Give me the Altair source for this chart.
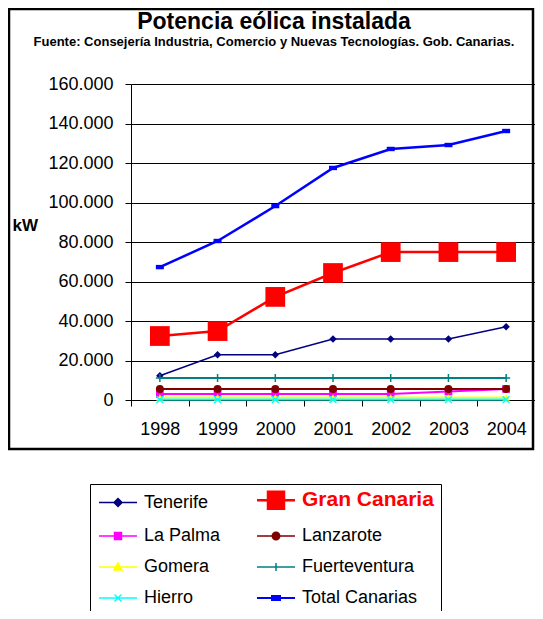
import json
import altair as alt
import pandas as pd

# ---------------- data ----------------
years = ["1998", "1999", "2000", "2001", "2002", "2003", "2004"]
tenerife = [12300, 22900, 22900, 30900, 30900, 30900, 37100]
gran_canaria = [32400, 34900, 52200, 64300, 74900, 74900, 74900]
la_palma = [3000, 3000, 3000, 3000, 3000, 4300, 5600]
lanzarote = [5600, 5600, 5600, 5600, 5600, 5600, 5600]
gomera = [1300, 1300, 1300, 1300, 1300, 1300, 1300]
fuerteventura = [11100, 11100, 11100, 11100, 11100, 11100, 11100]
hierro = [200, 200, 200, 200, 200, 200, 200]
total_canarias = [67300, 80500, 98200, 117500, 127100, 129100, 136200]

# drawing order (later on top)
series_names = ["Tenerife", "Gran Canaria", "La Palma", "Lanzarote",
                "Gomera", "Fuerteventura", "Hierro", "Total Canarias"]
series_values = [tenerife, gran_canaria, la_palma, lanzarote,
                 gomera, fuerteventura, hierro, total_canarias]
series_colors = ["#000080", "#FF0000", "#FF00FF", "#800000",
                 "#FFFF00", "#008080", "#00FFFF", "#0000FF"]
# legend order (column by column)
legend_order = ["Tenerife", "La Palma", "Gomera", "Hierro",
                "Gran Canaria", "Lanzarote", "Fuerteventura", "Total Canarias"]

rows = []
for name, vals in zip(series_names, series_values):
    for y, v in zip(years, vals):
        rows.append({"anio": y, "serie": name, "kw": v})
df = pd.DataFrame(rows)

FONT = "Liberation Sans"
color_of = dict(zip(series_names, series_colors))

# ---------------- styles ----------------
line_w = {"Tenerife": 1.5, "Gran Canaria": 2.5, "La Palma": 2, "Lanzarote": 2,
          "Gomera": 2, "Fuerteventura": 2, "Hierro": 2, "Total Canarias": 2.5}
marker_shape = {"Tenerife": "diamond", "Gran Canaria": "square", "La Palma": "square",
                "Lanzarote": "circle", "Gomera": "triangle-up",
                "Fuerteventura": "M-1,0H1M0,-1V1",
                "Hierro": "M-1,-1L1,1M-1,1L1,-1",
                "Total Canarias": "M-1,-0.55H1V0.55H-1Z"}
marker_size = {"Tenerife": 56, "Gran Canaria": 390, "La Palma": 60, "Lanzarote": 64,
               "Gomera": 55, "Fuerteventura": 64, "Hierro": 45, "Total Canarias": 64}
stroked_only = {"Fuerteventura", "Hierro"}

# legend symbol paths (unit = 5px since symbolSize=100), shifted right by S
S = 2.4
LINE = f"M{-3.8 + S},0H{3.8 + S}"


def sq(hw, hh):
    return f"M{S - hw},{-hh}H{S + hw}V{hh}H{S - hw}Z"


legend_paths = {
    "Tenerife": LINE + f"M{S},-0.8L{S + 0.8},0L{S},0.8L{S - 0.8},0Z",
    "Gran Canaria": LINE + sq(1.6, 1.7),
    "La Palma": LINE + sq(0.7, 0.7),
    "Lanzarote": LINE + f"M{S + 0.75},0A0.75,0.75 0 1,1 {S - 0.75},0A0.75,0.75 0 1,1 {S + 0.75},0Z",
    "Gomera": LINE + f"M{S},-0.8L{S + 0.8},0.6H{S - 0.8}Z",
    "Fuerteventura": LINE + f"M{S},-0.8V0.8",
    "Hierro": LINE + f"M{S - 0.7},-0.7L{S + 0.7},0.7M{S - 0.7},0.7L{S + 0.7},-0.7",
    "Total Canarias": LINE + sq(0.8, 0.4),
}


def case_expr(mapping, default):
    def lit(v):
        return str(v) if isinstance(v, (int, float)) else json.dumps(v)
    expr = lit(default)
    for k, v in reversed(list(mapping.items())):
        expr = f"datum.value === {json.dumps(k)} ? {lit(v)} : ({expr})"
    return expr


legend = alt.Legend(
    title=None,
    orient="none",
    legendX=-41,
    legendY=400,
    direction="vertical",
    columns=2,
    strokeColor="black",
    fillColor="white",
    padding=7,
    symbolSize=100,
    symbolType=alt.ExprRef(expr=case_expr(legend_paths, LINE)),
    symbolStrokeColor=alt.ExprRef(expr=case_expr(color_of, "black")),
    symbolFillColor=alt.ExprRef(expr=case_expr(color_of, "black")),
    symbolStrokeWidth=alt.ExprRef(expr=case_expr({"Gran Canaria": 2.5, "Total Canarias": 2}, 1.5)),
    symbolOpacity=1,
    labelFont=FONT,
    labelFontSize=alt.ExprRef(expr="datum.value === 'Gran Canaria' ? 21 : 18"),
    labelFontWeight=alt.ExprRef(expr="datum.value === 'Gran Canaria' ? 'bold' : 'normal'"),
    labelColor=alt.ExprRef(expr="datum.value === 'Gran Canaria' ? '#FF0000' : '#000000'"),
    labelOffset=29,
    labelLimit=300,
    rowPadding=13,
    columnPadding=31,
)

color_scale = alt.Scale(domain=legend_order, range=[color_of[n] for n in legend_order])

x_enc = alt.X("anio:O", scale=alt.Scale(type="band", paddingInner=0, paddingOuter=0),
              axis=alt.Axis(title=None, labelAngle=0, tickBand="extent", grid=False,
                            labelFont=FONT, labelFontSize=18, labelColor="black",
                            tickSize=6, labelPadding=14, domainColor="black",
                            tickColor="black"))
y_enc = alt.Y("kw:Q", scale=alt.Scale(domain=[0, 160000], nice=False),
              axis=alt.Axis(title="kW", titleAngle=0, titleAlign="left",
                            titleBaseline="middle", titleX=-119, titleY=141,
                            titleFont=FONT, titleFontSize=17, titleFontWeight="bold",
                            titleColor="black",
                            values=[0, 20000, 40000, 60000, 80000, 100000, 120000, 140000, 160000],
                            labelExpr="replace(format(datum.value, ','), ',', '.')",
                            labelFont=FONT, labelFontSize=18, labelColor="black",
                            tickSize=6, labelPadding=12, domainColor="black",
                            tickColor="black", gridColor="black", gridWidth=1,
                            gridOpacity=1))

base = alt.Chart(df)

layers = []
# outer frame (decoration)
frame = alt.Chart(pd.DataFrame({"f": [0]})).mark_rect(
    fillOpacity=0, stroke="black", strokeWidth=2.5
).encode(x=alt.value(-122), x2=alt.value(402), y=alt.value(-75), y2=alt.value(365))
layers.append(frame)

for name in series_names:
    sub = base.transform_filter(alt.datum.serie == name)
    col = alt.Color("serie:N", scale=color_scale, legend=legend)
    ln = sub.mark_line(strokeWidth=line_w[name]).encode(x=x_enc, y=y_enc, color=col)
    if name in stroked_only:
        pt = sub.mark_point(filled=False, strokeWidth=1.5, opacity=1,
                            shape=marker_shape[name], size=marker_size[name])
    else:
        pt = sub.mark_point(filled=True, opacity=1, strokeWidth=0,
                            shape=marker_shape[name], size=marker_size[name])
    pt = pt.encode(x=x_enc, y=y_enc, color=col)
    layers.append(ln)
    layers.append(pt)

chart = alt.layer(*layers).properties(
    width=404,
    height=316,
    autosize=alt.AutoSizeParams(type="none"),
    padding={"left": 123, "top": 76, "right": 0, "bottom": 211},
    title=alt.Title(
        "Potencia eólica instalada",
        subtitle="Fuente: Consejería Industria, Comercio y Nuevas Tecnologías. Gob. Canarias.",
        font=FONT, fontSize=23, fontWeight="bold", color="black",
        subtitleFont=FONT, subtitleFontSize=13, subtitleFontWeight="bold",
        subtitleColor="black", subtitlePadding=2,
        anchor="middle", dx=-59, offset=-41,
    ),
).configure_view(stroke=None).configure(background="white")

chart.save("out.html", embed_options={"renderer": "svg", "actions": False})
